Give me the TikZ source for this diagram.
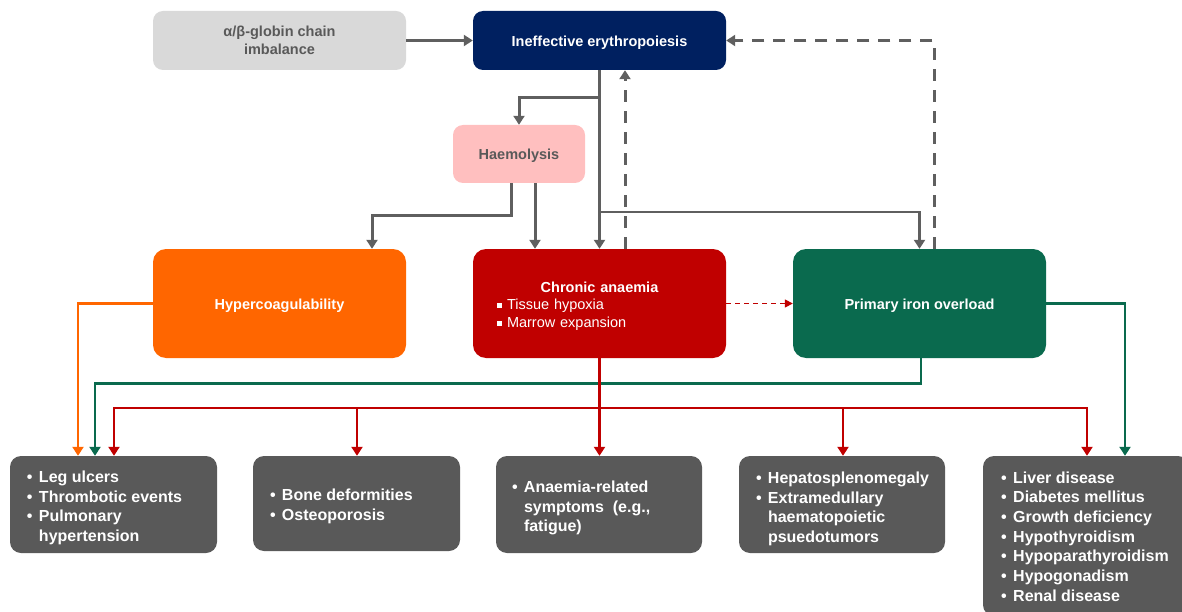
\documentclass[tikz,border=0pt]{standalone}
\usepackage{fontspec}
\setmainfont{Liberation Sans}
\usetikzlibrary{arrows.meta}
\definecolor{navy}{HTML}{002060}
\definecolor{cred}{HTML}{C00000}
\definecolor{cgreen}{HTML}{0A6A4E}
\definecolor{corange}{HTML}{FF6600}
\definecolor{cpink}{HTML}{FFBFBF}
\definecolor{lgray}{HTML}{D9D9D9}
\definecolor{dgray}{HTML}{595959}
\definecolor{lgrayline}{HTML}{5F5F5F}
\newcommand\bl{\makebox[12pt][l]{•}}
\newcommand\ind{\hspace*{12pt}}
\newcommand\sqb{\makebox[10pt][l]{\rule[2pt]{4.5pt}{4.5pt}}}
\begin{document}
\begin{tikzpicture}[x=1pt,y=-1pt,
  box/.style={rounded corners=10pt, inner sep=0pt, align=center, font=\bfseries\fontsize{14.5}{17.5}\selectfont},
  one/.style={text height=11.4pt, text depth=0pt},
  outbox/.style={rounded corners=11pt, inner sep=0pt, fill=dgray},
  list/.style={inner sep=0pt, align=left, text=white, anchor=west, font=\bfseries\fontsize{16}{19.7}\selectfont},
  tip/.style={-{Triangle[length=9pt,width=11pt]}},
  ga/.style={tip, draw=lgrayline, line width=3pt},
  gd/.style={ga, dash pattern=on 12pt off 9pt},
  ra/.style={tip, draw=cred, line width=2.8pt},
  rd/.style={draw=cred, line width=1.5pt, dash pattern=on 5pt off 4pt, -{Triangle[length=8pt,width=8pt]}},
  gna/.style={tip, draw=cgreen, line width=2.8pt},
  oa/.style={tip, draw=corange, line width=2.4pt}]
\useasboundingbox (0,0) rectangle (1182,612);
\clip (0,0) rectangle (1182,612);
% top boxes
\node[box, fill=lgray, text=dgray, minimum width=253pt, minimum height=59pt] (glob) at (279.5,40.5) {α/β-globin chain\\imbalance};
\node[box, one, fill=navy, text=white, minimum width=253pt, minimum height=59pt] (ineff) at (599.5,40.5) {Ineffective erythropoiesis};
\node[box, one, fill=cpink, text=dgray, minimum width=132pt, minimum height=58pt] (haem) at (519,154) {Haemolysis};
% middle boxes
\node[box, one, fill=corange, text=white, rounded corners=13pt, minimum width=253pt, minimum height=109pt] (hyper) at (279.5,303.5) {Hypercoagulability};
\node[box, fill=cred, rounded corners=13pt, minimum width=253pt, minimum height=109pt] (chronic) at (599.5,303.5) {};
\node[box, text=white, align=left, text width=205pt, inner sep=0pt] (ctext) at ([yshift=-3pt]chronic.center)
  {\makebox[205pt][c]{Chronic anaemia}\\[-0.5pt]
   {\mdseries\fontsize{14.5}{18}\selectfont\sqb Tissue hypoxia}\\[0.5pt]
   {\mdseries\fontsize{14.5}{18}\selectfont\sqb Marrow expansion}};
\node[box, one, fill=cgreen, text=white, rounded corners=13pt, minimum width=253pt, minimum height=109pt] (iron) at (919.5,303.5) {Primary iron overload};
% bottom boxes
\node[outbox, minimum width=207pt, minimum height=97pt] (b1) at (113.5,504.5) {};
\node[outbox, minimum width=207pt, minimum height=95pt] (b2) at (356.5,503.5) {};
\node[outbox, minimum width=206pt, minimum height=97pt] (b3) at (599,504.5) {};
\node[outbox, minimum width=206pt, minimum height=97pt] (b4) at (842,504.5) {};
\node[outbox, minimum width=206pt, minimum height=160pt] (b5) at (1086,536) {};
\node[list] (t1) at ([xshift=17pt,yshift=-3.5pt]b1.west) {\bl Leg ulcers\\\bl Thrombotic events\\\bl Pulmonary\\\ind hypertension};
\node[list] (t2) at ([xshift=17pt,yshift=-3pt]b2.west) {\bl Bone deformities\\\bl Osteoporosis};
\node[list] (t3) at ([xshift=16pt,yshift=-3.5pt]b3.west) {\bl Anaemia-related\\\ind symptoms\ \ (e.g.,\\\ind fatigue)};
\node[list] (t4) at ([xshift=17pt,yshift=-4.5pt]b4.west) {\bl Hepatosplenomegaly\\\bl Extramedullary\\\ind haematopoietic\\\ind psuedotumors};
\node[list] (t5) at (1001,536.5) {\bl Liver disease\\\bl Diabetes mellitus\\\bl Growth deficiency\\\bl Hypothyroidism\\\bl Hypoparathyroidism\\\bl Hypogonadism\\\bl Renal disease};
% junctions
\coordinate (j1) at (600,98);
\coordinate (j2) at (600,212);
\coordinate (rb) at (600,408);
\coordinate (h1) at ([xshift=-8pt]haem.south);
\coordinate (h2) at ([xshift=16pt]haem.south);
% gray connectors
\draw[ga] (glob.east) -- (ineff.west);
\draw[ga] (ineff.south) -- (chronic.north);
\draw[ga] (j1) -| (haem.north);
\draw[ga, line width=2.4pt] (j2) -| (iron.north);
\draw[ga] (h1) -- ++(0,32) -| ([xshift=92.5pt]hyper.north);
\draw[ga] (h2) -- (h2 |- chronic.north);
\draw[gd] ([xshift=25.5pt]chronic.north) -- ([xshift=25.5pt]ineff.south);
\draw[gd] ([xshift=14.5pt]iron.north) |- (ineff.east);
% red dashed
\draw[rd] (chronic.east) -- (iron.west);
% orange
\draw[oa] (hyper.west) -| ([xshift=-35.5pt]b1.north);
% green
\draw[gna] ([xshift=1.5pt]iron.south) -- ++(0,25) -| ([xshift=-18.5pt]b1.north);
\draw[gna] (iron.east) -| ([xshift=39pt]b5.north);
% red
\draw[ra] (chronic.south) -- (chronic.south |- b3.north);
\draw[ra] (rb) -| ([xshift=0.5pt]b1.north);
\draw[ra] (rb) -| ([xshift=0.5pt]b2.north);
\draw[ra] (rb) -| ([xshift=1pt]b4.north);
\draw[ra] (rb) -| ([xshift=1pt]b5.north);
\end{tikzpicture}
\end{document}
